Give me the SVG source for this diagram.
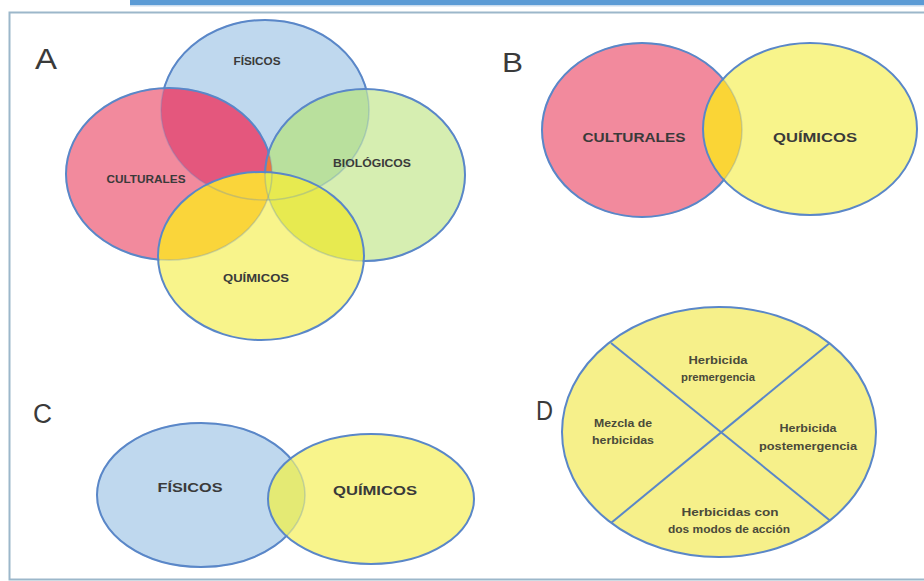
<svg xmlns="http://www.w3.org/2000/svg" width="924" height="581" viewBox="0 0 924 581">
<style>
.lbl{font-family:"Liberation Sans",Arial,sans-serif;font-weight:700;fill:#3a3a3a;text-anchor:middle}
.big{font-family:"Liberation Sans",Arial,sans-serif;font-weight:400;fill:#3a3a3a}
.s{font-size:10.5px}
.m{font-size:13.5px}
.d{font-size:11px;font-weight:700;fill:#4a4a3a}
.ol{fill:none;stroke:#5a87c8;stroke-width:2}
.olf{fill:none;stroke:#5a87c8;stroke-width:1.5;stroke-opacity:0.3}
.blue{fill:#bfd8ee}.pink{fill:#f28a9d}.green{fill:#d6eeb1}.yellow{fill:#f8f48b}
</style>
<defs>
<clipPath id="cA-blue"><ellipse cx="265" cy="110" rx="104" ry="90"/></clipPath>
<clipPath id="cA-pink"><ellipse cx="169" cy="174" rx="103" ry="86"/></clipPath>
<clipPath id="cA-green"><ellipse cx="365" cy="175" rx="100" ry="86"/></clipPath>
<clipPath id="cB-pink"><ellipse cx="642" cy="130" rx="100" ry="87"/></clipPath>
<clipPath id="cC-blue"><ellipse cx="201" cy="495" rx="104" ry="72"/></clipPath>
<clipPath id="cD"><ellipse cx="719" cy="432" rx="157" ry="125"/></clipPath>
<mask id="mA-blue" maskUnits="userSpaceOnUse" x="0" y="0" width="924" height="581">
<rect x="0" y="0" width="924" height="581" fill="#fff"/>
<ellipse cx="169" cy="174" rx="102" ry="85" fill="#000"/>
<ellipse cx="365" cy="175" rx="99" ry="85" fill="#000"/>
<ellipse cx="261" cy="256" rx="102" ry="83" fill="#000"/>
</mask>
<mask id="mA-pink" maskUnits="userSpaceOnUse" x="0" y="0" width="924" height="581">
<rect x="0" y="0" width="924" height="581" fill="#fff"/>
<ellipse cx="365" cy="175" rx="99" ry="85" fill="#000"/>
<ellipse cx="261" cy="256" rx="102" ry="83" fill="#000"/>
</mask>
<mask id="mA-green" maskUnits="userSpaceOnUse" x="0" y="0" width="924" height="581">
<rect x="0" y="0" width="924" height="581" fill="#fff"/>
<ellipse cx="261" cy="256" rx="102" ry="83" fill="#000"/>
</mask>
<mask id="mB-pink" maskUnits="userSpaceOnUse" x="0" y="0" width="924" height="581">
<rect x="0" y="0" width="924" height="581" fill="#fff"/>
<ellipse cx="810" cy="129" rx="106" ry="85" fill="#000"/>
</mask>
<mask id="mC-blue" maskUnits="userSpaceOnUse" x="0" y="0" width="924" height="581">
<rect x="0" y="0" width="924" height="581" fill="#fff"/>
<ellipse cx="371" cy="499" rx="102" ry="64" fill="#000"/>
</mask>
</defs>

<rect x="0" y="0" width="924" height="581" fill="#ffffff"/>
<g id="frame">
<rect x="130" y="0" width="794" height="5" fill="#5b9bd5"/>
<rect x="130" y="5" width="794" height="1.5" fill="#c9dcee"/>
<rect x="9.5" y="12.5" width="930" height="567" fill="none" stroke="#9cb7ca" stroke-width="2"/>
</g>

<g id="panel-labels">
<text class="big" x="35" y="69" font-size="29" textLength="22" lengthAdjust="spacingAndGlyphs">A</text>
<text class="big" x="502" y="72" font-size="27" textLength="21" lengthAdjust="spacingAndGlyphs">B</text>
<text class="big" x="33" y="423" font-size="27" textLength="19" lengthAdjust="spacingAndGlyphs">C</text>
<text class="big" x="536" y="420" font-size="27" textLength="17" lengthAdjust="spacingAndGlyphs">D</text>
</g>

<!-- Panel A -->
<g id="a-fisicos">
<ellipse class="blue" cx="265" cy="110" rx="104" ry="90"/>
<text class="lbl s" x="257" y="65" textLength="47" lengthAdjust="spacingAndGlyphs">FÍSICOS</text>
</g>
<g id="a-culturales">
<ellipse class="pink" cx="169" cy="174" rx="103" ry="86"/>
<ellipse cx="169" cy="174" rx="103" ry="86" fill="#e4577d" clip-path="url(#cA-blue)"/>
<text class="lbl s" x="146" y="183" textLength="79" lengthAdjust="spacingAndGlyphs">CULTURALES</text>
</g>
<g id="a-biologicos">
<ellipse class="green" cx="365" cy="175" rx="100" ry="86"/>
<ellipse cx="365" cy="175" rx="100" ry="86" fill="#b9e09d" clip-path="url(#cA-blue)"/>
<ellipse cx="365" cy="175" rx="100" ry="86" fill="#ee7a3b" clip-path="url(#cA-pink)"/>
<text class="lbl s" x="372" y="167" textLength="78" lengthAdjust="spacingAndGlyphs">BIOLÓGICOS</text>
</g>
<g id="a-quimicos">
<ellipse class="yellow" cx="261" cy="256" rx="103" ry="84"/>
<ellipse cx="261" cy="256" rx="103" ry="84" fill="#f0e862" clip-path="url(#cA-blue)"/>
<ellipse cx="261" cy="256" rx="103" ry="84" fill="#fad53a" clip-path="url(#cA-pink)"/>
<ellipse cx="261" cy="256" rx="103" ry="84" fill="#e7ea50" clip-path="url(#cA-green)"/>
<text class="lbl s" x="256" y="282" textLength="66" lengthAdjust="spacingAndGlyphs">QUÍMICOS</text>
</g>
<g id="a-outlines">
<ellipse class="olf" cx="265" cy="110" rx="104" ry="90"/>
<ellipse class="olf" cx="169" cy="174" rx="103" ry="86"/>
<ellipse class="olf" cx="365" cy="175" rx="100" ry="86"/>
<ellipse class="ol" cx="265" cy="110" rx="104" ry="90" mask="url(#mA-blue)"/>
<ellipse class="ol" cx="169" cy="174" rx="103" ry="86" mask="url(#mA-pink)"/>
<ellipse class="ol" cx="365" cy="175" rx="100" ry="86" mask="url(#mA-green)"/>
<ellipse class="ol" cx="261" cy="256" rx="103" ry="84"/>
</g>

<!-- Panel B -->
<g id="b-culturales">
<ellipse class="pink" cx="642" cy="130" rx="100" ry="87"/>
<text class="lbl m" x="634" y="142" textLength="103" lengthAdjust="spacingAndGlyphs">CULTURALES</text>
</g>
<g id="b-quimicos">
<ellipse class="yellow" cx="810" cy="129" rx="107" ry="86"/>
<ellipse cx="810" cy="129" rx="107" ry="86" fill="#fad536" clip-path="url(#cB-pink)"/>
<text class="lbl m" x="815" y="142" textLength="84" lengthAdjust="spacingAndGlyphs">QUÍMICOS</text>
</g>
<g id="b-outlines">
<ellipse class="olf" cx="642" cy="130" rx="100" ry="87"/>
<ellipse class="ol" cx="642" cy="130" rx="100" ry="87" mask="url(#mB-pink)"/>
<ellipse class="ol" cx="810" cy="129" rx="107" ry="86"/>
</g>

<!-- Panel C -->
<g id="c-fisicos">
<ellipse class="blue" cx="201" cy="495" rx="104" ry="72"/>
<text class="lbl m" x="190" y="492" textLength="65" lengthAdjust="spacingAndGlyphs">FÍSICOS</text>
</g>
<g id="c-quimicos">
<ellipse class="yellow" cx="371" cy="499" rx="103" ry="65"/>
<ellipse cx="371" cy="499" rx="103" ry="65" fill="#e4ea74" clip-path="url(#cC-blue)"/>
<text class="lbl m" x="375" y="495" textLength="84" lengthAdjust="spacingAndGlyphs">QUÍMICOS</text>
</g>
<g id="c-outlines">
<ellipse class="olf" cx="201" cy="495" rx="104" ry="72"/>
<ellipse class="ol" cx="201" cy="495" rx="104" ry="72" mask="url(#mC-blue)"/>
<ellipse class="ol" cx="371" cy="499" rx="103" ry="65"/>
</g>

<!-- Panel D -->
<g id="d-circle">
<ellipse cx="719" cy="432" rx="157" ry="125" fill="#f6f08a"/>
</g>
<g id="d-dividers" clip-path="url(#cD)">
<line x1="611" y1="343" x2="833" y2="523" stroke="#5a87c8" stroke-width="2"/>
<line x1="831" y1="342" x2="611" y2="523" stroke="#5a87c8" stroke-width="2"/>
</g>
<g id="d-outline">
<ellipse class="ol" cx="719" cy="432" rx="157" ry="125"/>
</g>
<g id="d-premergencia">
<text class="lbl d" x="718" y="364" textLength="59" lengthAdjust="spacingAndGlyphs">Herbicida</text>
<text class="lbl d" x="718" y="381" textLength="74" lengthAdjust="spacingAndGlyphs">premergencia</text>
</g>
<g id="d-mezcla">
<text class="lbl d" x="623" y="427" textLength="58" lengthAdjust="spacingAndGlyphs">Mezcla de</text>
<text class="lbl d" x="623" y="444" textLength="62" lengthAdjust="spacingAndGlyphs">herbicidas</text>
</g>
<g id="d-postemergencia">
<text class="lbl d" x="808" y="432" textLength="57" lengthAdjust="spacingAndGlyphs">Herbicida</text>
<text class="lbl d" x="808" y="450" textLength="98" lengthAdjust="spacingAndGlyphs">postemergencia</text>
</g>
<g id="d-dosmodos">
<text class="lbl d" x="730" y="516" textLength="97" lengthAdjust="spacingAndGlyphs">Herbicidas con</text>
<text class="lbl d" x="729" y="533" textLength="122" lengthAdjust="spacingAndGlyphs">dos modos de acción</text>
</g>
</svg>
